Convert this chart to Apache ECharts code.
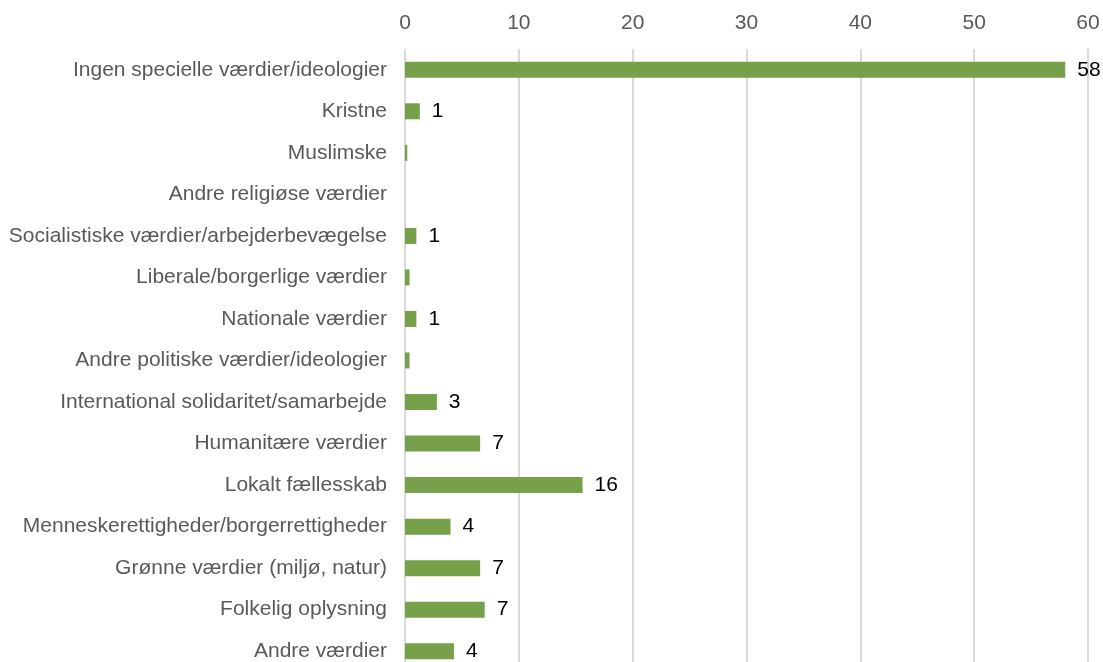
<!DOCTYPE html>
<html>
<head>
<meta charset="utf-8">
<script src="https://cdn.jsdelivr.net/npm/echarts@6/dist/echarts.min.js"></script>
<style>
  html, body { margin: 0; padding: 0; background: #fff; }
  #chart { width: 1103px; height: 662px; }
</style>
</head>
<body>
<div id="chart"></div>
<script>
// Values (%) per value basis, listed top to bottom
const categories = [
  'Ingen specielle værdier/ideologier',
  'Kristne',
  'Muslimske',
  'Andre religiøse værdier',
  'Socialistiske værdier/arbejderbevægelse',
  'Liberale/borgerlige værdier',
  'Nationale værdier',
  'Andre politiske værdier/ideologier',
  'International solidaritet/samarbejde',
  'Humanitære værdier',
  'Lokalt fællesskab',
  'Menneskerettigheder/borgerrettigheder',
  'Grønne værdier (miljø, natur)',
  'Folkelig oplysning',
  'Andre værdier'
];
const values = [58.0, 1.3, 0.2, 0, 1.0, 0.4, 1.0, 0.4, 2.8, 6.6, 15.6, 4.0, 6.6, 7.0, 4.3];
const axisTicks = [0, 10, 20, 30, 40, 50, 60];

const FONT = 'Liberation Sans, Arial, sans-serif';

const chart = echarts.init(document.getElementById('chart'));
chart.setOption({
  animation: false,
  // the plot runs slightly past the bottom edge of the canvas
  grid: { left: 405, right: 15, top: 49, height: 623, containLabel: false, outerBoundsMode: 'none' },
  xAxis: {
    type: 'value',
    position: 'top',
    min: axisTicks[0],
    max: axisTicks[axisTicks.length - 1],
    interval: axisTicks[1] - axisTicks[0],
    axisLine: { show: false },
    axisTick: { show: false },
    axisLabel: { color: '#595959', fontSize: 21, fontFamily: FONT, margin: 15 },
    splitLine: { show: true, lineStyle: { color: '#d9d9d9', width: 2 } }
  },
  yAxis: {
    type: 'category',
    inverse: true,
    data: categories,
    axisLine: { show: false },
    axisTick: { show: false },
    axisLabel: { color: '#595959', fontSize: 21, fontFamily: FONT, margin: 18 }
  },
  series: [{
    type: 'bar',
    data: values,
    barWidth: 16,
    itemStyle: { color: '#77a04a' },
    label: {
      show: true,
      position: 'right',
      distance: 12,
      color: '#000',
      fontSize: 21,
      fontFamily: FONT,
      formatter: p => {
        const r = Math.round(p.value);
        return r === 0 ? '' : String(r);
      }
    }
  }]
});
</script>
</body>
</html>
